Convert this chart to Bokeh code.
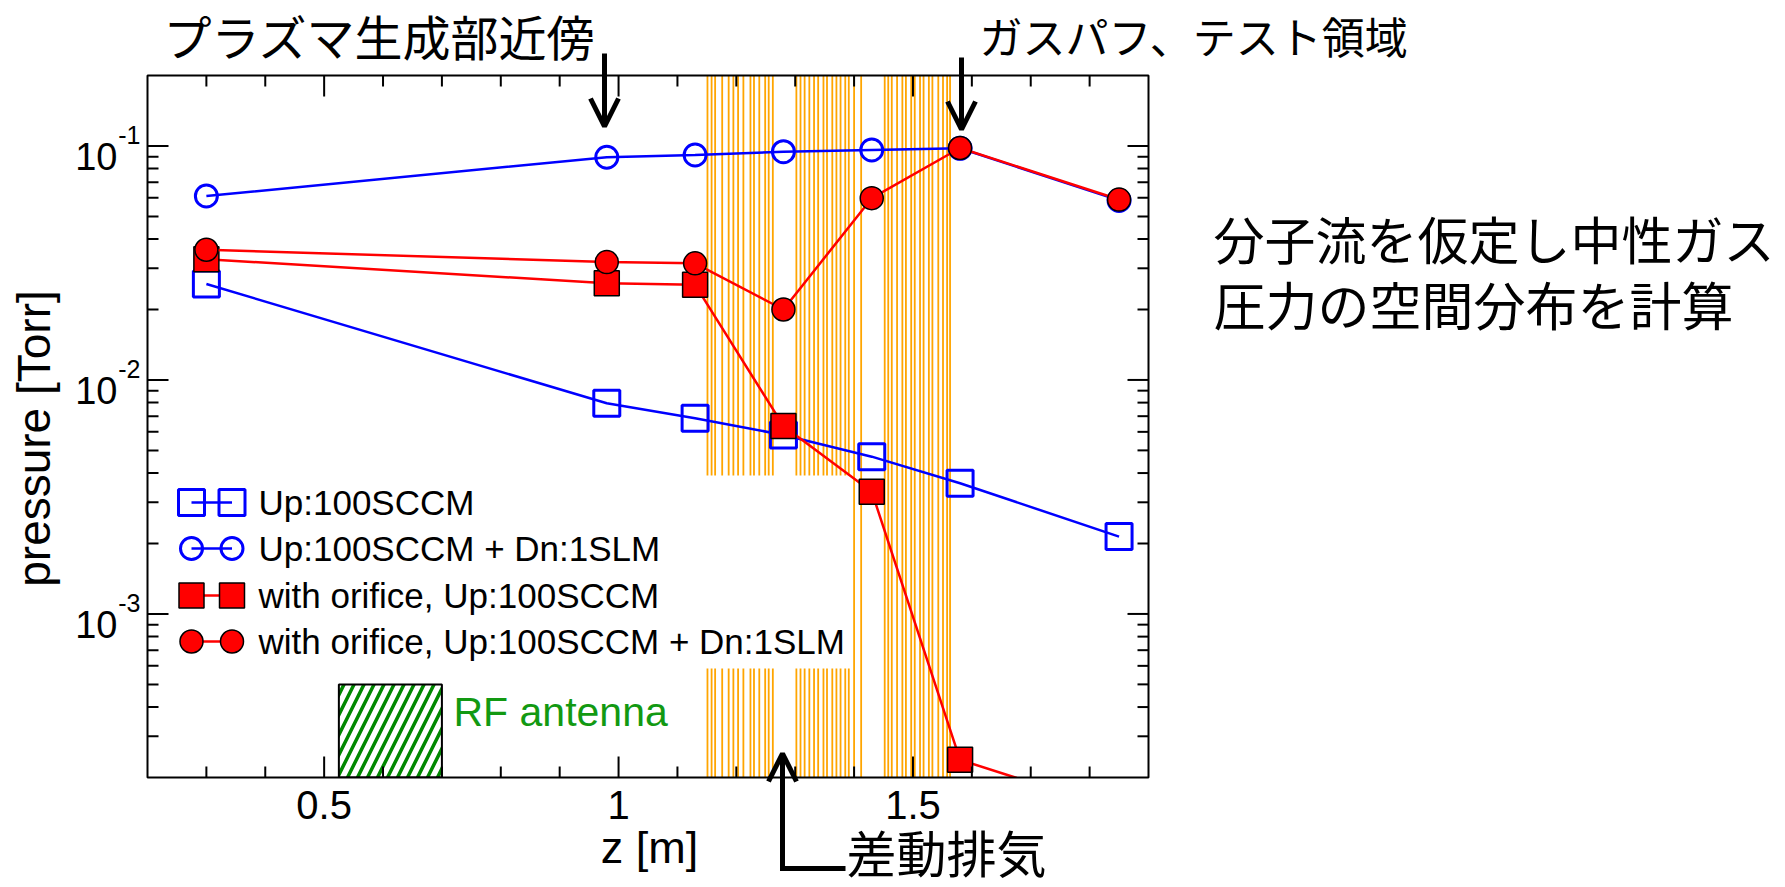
import math
from bokeh.plotting import figure
from bokeh.models import Range1d, Arrow, OpenHead
from bokeh.core.properties import value
from bokeh.embed import file_html
from bokeh.resources import INLINE

# ---------------- data ----------------
z_m = [0.3, 0.98, 1.13, 1.28, 1.43, 1.58, 1.85]
p_up100 = [0.0257, 0.00795, 0.00686, 0.00582, 0.00470, 0.00362, 0.00214]
p_up100_dn1 = [0.0611, 0.0895, 0.0915, 0.0945, 0.0961, 0.0977, 0.0585]
p_orf_up100 = [0.0328, 0.0259, 0.0255, 0.00636, 0.00333, 0.000238, 0.000144]
p_orf_up100_dn1 = [0.0360, 0.0319, 0.0315, 0.0200, 0.0598, 0.0980, 0.0590]
series_labels = ["Up:100SCCM", "Up:100SCCM + Dn:1SLM",
                 "with orifice, Up:100SCCM", "with orifice, Up:100SCCM + Dn:1SLM"]

# differential pumping section (orange vertical lines), z [m]
pump_z = [1.151, 1.158, 1.164, 1.176, 1.187, 1.195, 1.203, 1.212, 1.224, 1.230,
          1.239, 1.249, 1.255, 1.262,
          1.302, 1.309, 1.316, 1.324, 1.332, 1.339, 1.348, 1.354, 1.363, 1.370,
          1.377, 1.385, 1.391, 1.400, 1.412,
          1.452, 1.458, 1.464, 1.473, 1.482, 1.488, 1.497, 1.503, 1.512, 1.518,
          1.527, 1.533, 1.543, 1.551, 1.558, 1.563]
antenna_z = [0.525, 0.70]
antenna_p = [2e-4, 5e-4]

x_major = [0.5, 1.0, 1.5]
x_major_labels = ["0.5", "1", "1.5"]
x_minor = [0.3, 0.4, 0.6, 0.7, 0.8, 0.9, 1.1, 1.2, 1.3, 1.4, 1.6, 1.7, 1.8]
y_major = [1e-3, 1e-2, 1e-1]
y_major_exp = ["-3", "-2", "-1"]
y_minor = [m * 10.0 ** e for e in (-4, -3, -2) for m in range(2, 10)
           if 2.5e-4 < m * 10.0 ** e < 0.19]

# ---------------- geometry (canvas pixels) ----------------
W, H = 1780, 886
FL, FT, FW, FH = 147, 75, 1001, 702          # plot box
X0, X1 = 0.2, 1.9
Y0, Y1 = 2e-4, 0.2
LY0, LY1 = math.log10(Y0), math.log10(Y1)
PX_X = FW / (X1 - X0)
PX_DEC = FH / (LY1 - LY0)


def dx(px):
    return X0 + (px - FL) / PX_X


def dy(py):
    return 10 ** (LY1 - (py - FT) / PX_DEC)


def sx(x, px):      # shift an x value by px pixels (right positive)
    return x + px / PX_X


def sy(y, px):      # shift a y value by px pixels (down positive)
    return y * 10 ** (-px / PX_DEC)


LATIN = "Liberation Sans"
CJK = "Noto Sans CJK JP"

p = figure(width=W, height=H, x_range=Range1d(dx(0), dx(W)), y_range=Range1d(dy(H), dy(0)),
           y_axis_type="log", x_axis_location=None, y_axis_location=None,
           output_backend="svg", toolbar_location=None, min_border=0)
p.grid.visible = False
p.outline_line_color = None
p.background_fill_color = "white"
p.border_fill_color = "white"

# orange lines of the differential pumping section
n = len(pump_z)
p.segment(x0=pump_z, y0=[Y0] * n, x1=pump_z, y1=[Y1] * n,
          line_color="orange", line_width=1.8)

# legend background
p.quad(left=dx(152), right=dx(851), bottom=dy(668), top=dy(475),
       fill_color="white", line_color=None)

# RF antenna
p.quad(left=antenna_z[0], right=antenna_z[1], bottom=antenna_p[0], top=antenna_p[1],
       fill_color="white", hatch_pattern="/", hatch_color="#008800",
       hatch_scale=20, hatch_weight=3.5, line_color="black", line_width=2)

styles = [
    dict(y=p_up100, color="blue", marker="square", size=26, fill=None,
         mline="blue", mlw=3),
    dict(y=p_up100_dn1, color="blue", marker="circle", size=22, fill=None,
         mline="blue", mlw=3),
    dict(y=p_orf_up100, color="red", marker="square", size=25, fill="red",
         mline="black", mlw=1.5),
    dict(y=p_orf_up100_dn1, color="red", marker="circle", size=23, fill="red",
         mline="black", mlw=1.5),
]
for s in styles:
    p.line(z_m, s["y"], line_color=s["color"], line_width=2.5)
    p.scatter(z_m, s["y"], marker=s["marker"], size=s["size"], fill_color=s["fill"],
              line_color=s["mline"], line_width=s["mlw"])

# white masks outside the plot box (act as clipping)
for l, r, b, t in [(dx(0), X0, dy(H), dy(0)), (X1, dx(W), dy(H), dy(0)),
                   (X0, X1, Y1, dy(0)), (X0, X1, dy(H), Y0)]:
    p.quad(left=l, right=r, bottom=b, top=t, fill_color="white", line_color=None)

# plot box and ticks (inward on all four sides)
p.quad(left=X0, right=X1, bottom=Y0, top=Y1, fill_color=None,
       line_color="black", line_width=2)
tx0, ty0, tx1, ty1 = [], [], [], []
for t in x_major + x_minor:
    L = 21 if t in x_major else 11
    tx0 += [t, t]; tx1 += [t, t]
    ty0 += [Y0, Y1]; ty1 += [sy(Y0, -L), sy(Y1, L)]
for t in y_major + y_minor:
    L = 21 if t in y_major else 11
    tx0 += [X0, X1]; tx1 += [sx(X0, L), sx(X1, -L)]
    ty0 += [t, t]; ty1 += [t, t]
p.segment(x0=tx0, y0=ty0, x1=tx1, y1=ty1, line_color="black", line_width=2)


def label(x, y, txt, font, size, align="left", angle=0.0, color="black"):
    p.text(x=[x], y=[y], text=[txt], text_font=value(font), text_font_size=size,
           text_align=align, text_baseline="middle", angle=angle, text_color=color)


# tick labels
for t, lab in zip(x_major, x_major_labels):
    label(t, dy(804), lab, LATIN, "40px", align="center")
for t, e in zip(y_major, y_major_exp):
    label(sx(X0, -30), sy(t, 11), "10", LATIN, "38px", align="right")
    label(sx(X0, -7), sy(t, -10.5), e, LATIN, "25px", align="right")

# axis titles
label(dx(649), dy(847), "z [m]", LATIN, "45px", align="center")
label(dx(33), dy(438), "pressure [Torr]", LATIN, "46px", align="center",
      angle=math.pi / 2)

# manual legend (two markers per entry, as in the original)
row_px = [502, 548, 595, 641]
for s, lab, ry in zip(styles, series_labels, row_px):
    yy = dy(ry)
    p.line([dx(191), dx(231.5)], [yy, yy], line_color=s["color"], line_width=2.5)
    p.scatter([dx(191), dx(231.5)], [yy, yy], marker=s["marker"], size=s["size"],
              fill_color=s["fill"], line_color=s["mline"], line_width=s["mlw"])
    label(dx(258), yy, lab, LATIN, "35px")

label(dx(453), dy(711), "RF antenna", LATIN, "41px", color="#129912")

# arrows
head = dict(size=28, line_width=5, line_color="black")
p.add_layout(Arrow(end=OpenHead(**head), x_start=dx(604), y_start=dy(53),
                   x_end=dx(604), y_end=dy(126), line_width=5, line_color="black"))
p.add_layout(Arrow(end=OpenHead(**head), x_start=dx(961), y_start=dy(57),
                   x_end=dx(961), y_end=dy(129), line_width=5, line_color="black"))
p.add_layout(Arrow(end=OpenHead(**head), x_start=dx(782), y_start=dy(868),
                   x_end=dx(782), y_end=dy(753), line_width=5, line_color="black"))
p.add_layout(Arrow(end=None, x_start=dx(779.5), y_start=dy(868),
                   x_end=dx(845), y_end=dy(868), line_width=5, line_color="black"))

# Japanese texts
jp = [("プラズマ生成部近傍", 163, 34, 48),
      ("ガスパフ、テスト領域", 979, 34, 43),
      ("差動排気", 846, 850, 50),
      ("分子流を仮定し中性ガス", 1213, 237, 51),
      ("圧力の空間分布を計算", 1213, 303, 52)]
for txt, px, pc, fs in jp:
    label(dx(px), dy(pc), txt, CJK, f"{fs}px")

open("out.html", "w").write(file_html(p, INLINE))
